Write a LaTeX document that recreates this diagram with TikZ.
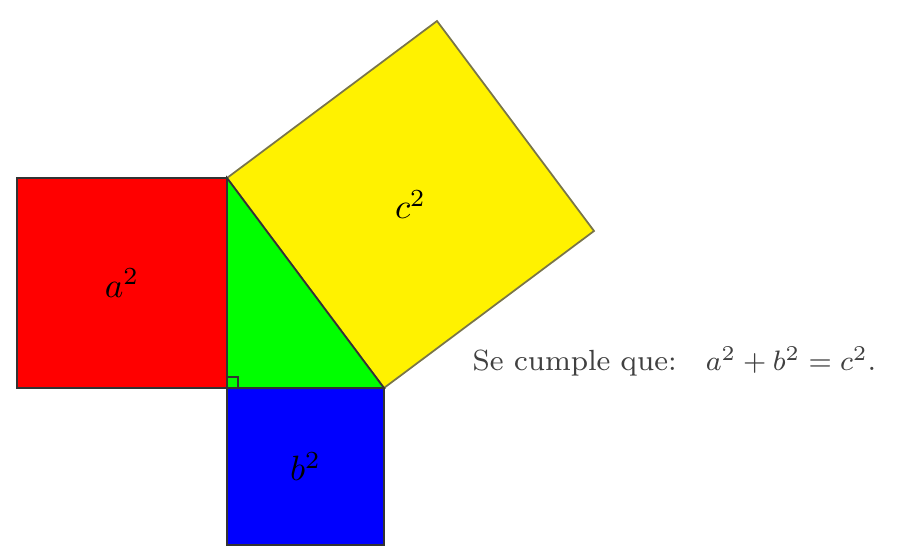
\documentclass[tikz,border=0pt]{standalone}
\usepackage{tikz}
\usetikzlibrary{calc}

\begin{document}
\begin{tikzpicture}[
    sq/.style={draw=black!80, line width=0.5pt, line join=miter},
    lbl/.style={font=\normalsize}
  ]
    \useasboundingbox (0,0) rectangle (9.19,5.58);

    % vertices of the right triangle
    \coordinate (C) at (2.27,1.70);
    \coordinate (A) at (2.27,3.80);
    \coordinate (B) at (3.84,1.70);
    \coordinate (A2) at ($(A)!1!90:(B)$);
    \coordinate (B2) at ($(B)!1!-90:(A)$);

    \fill[green] (C) -- (A) -- (B) -- cycle;
    \draw[sq, fill=red] (0.17,1.70) rectangle (A);
    \draw[sq, fill=blue] (C) rectangle (3.84,0.13);
    \draw[sq, draw=black!60!yellow, fill=yellow] (A) -- (A2) -- (B2) -- (B) -- cycle;
    \draw[sq] (C) -- (A) -- (B) -- cycle;
    \draw[black!80, line width=0.4pt] ($(C)+(0.11,0)$) -- ++(0,0.11) -- ++(-0.11,0);

    \node[lbl] (a2) at (1.22,2.75) {$a^2$};
    \node[lbl] (b2) at (3.055,0.915) {$b^2$};
    \node[lbl] (c2) at ($(A)!0.5!(B2)$) {$c^2$};

    \node[anchor=west, text=black!75, font=\fontsize{8.3}{10}\selectfont, inner sep=0pt] (eq) at (4.72,1.96) {Se cumple que:\quad$a^2+b^2=c^2$.};
  \end{tikzpicture}
\end{document}
